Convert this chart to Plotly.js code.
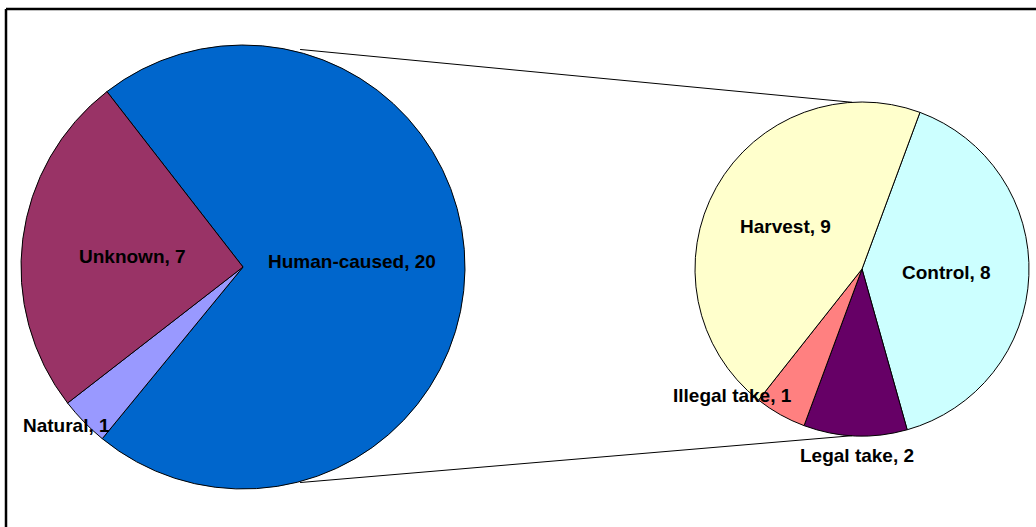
<!DOCTYPE html>
<html>
<head>
<meta charset="utf-8">
<script src="https://cdn.plot.ly/plotly-3.0.1.min.js"></script>
<style>html,body{margin:0;padding:0;background:#fff;}#chart{width:1036px;height:527px;}</style>
</head>
<body>
<div id="chart"></div>
<script>
// ---- data ----
const mainLabels = ["Human-caused", "Natural", "Unknown"];
const mainValues = [20, 1, 7];
const mainColors = ["#0066CC", "#9999FF", "#993366"];

const subLabels = ["Control", "Legal take", "Illegal take", "Harvest"];
const subValues = [8, 2, 1, 9];
const subColors = ["#CCFFFF", "#660066", "#FF8080", "#FFFFCC"];

// ---- geometry (pixels) ----
const W = 1036, H = 527;
const L = {cx: 243, cy: 267, r: 222};
const R = {cx: 862, cy: 269, r: 167};

// label anchor points (pixels), same order as labels above
const mainLabelPos = [[352, 261], [66, 425], [132, 256]];
const subLabelPos = [[946, 272], [857, 455], [732, 395], [785, 227]];

function domainOf(p) {
  return {
    x: [(p.cx - p.r) / W, (p.cx + p.r) / W],
    y: [1 - (p.cy + p.r) / H, 1 - (p.cy - p.r) / H]
  };
}
const px = x => x / W;
const py = y => 1 - y / H;

const font = {family: "Liberation Sans, Arial, sans-serif", size: 19, color: "#000"};

const traces = [
  {
    type: "pie",
    labels: mainLabels,
    values: mainValues,
    marker: {colors: mainColors, line: {color: "#000", width: 1}},
    sort: false,
    direction: "clockwise",
    rotation: -37.8,
    domain: domainOf(L),
    textinfo: "none",
    hoverinfo: "label+value",
    showlegend: false
  },
  {
    type: "pie",
    labels: subLabels,
    values: subValues,
    marker: {colors: subColors, line: {color: "#000", width: 1}},
    sort: false,
    direction: "clockwise",
    rotation: 20.3,
    domain: domainOf(R),
    textinfo: "none",
    hoverinfo: "label+value",
    showlegend: false
  }
];

const annotations = [];
function addLabels(labels, values, pos) {
  labels.forEach((lab, i) => {
    annotations.push({
      xref: "paper", yref: "paper",
      x: px(pos[i][0]), y: py(pos[i][1]),
      xanchor: "center", yanchor: "middle",
      text: "<b>" + lab + ", " + values[i] + "</b>",
      showarrow: false,
      font: font
    });
  });
}
addLabels(mainLabels, mainValues, mainLabelPos);
addLabels(subLabels, subValues, subLabelPos);

// connector lines from the main pie to the secondary pie
const angL = 14.9 * Math.PI / 180, angR = -3.4 * Math.PI / 180;
const topL = [L.cx + L.r * Math.sin(angL), L.cy - L.r * Math.cos(angL) - 3];
const botL = [L.cx + L.r * Math.sin(angL), L.cy + L.r * Math.cos(angL) + 1];
const topR = [R.cx + R.r * Math.sin(angR), R.cy - R.r * Math.cos(angR)];
const botR = [R.cx + R.r * Math.sin(angR), R.cy + R.r * Math.cos(angR)];

const shapes = [
  {type: "line", xref: "paper", yref: "paper", x0: px(topL[0]), y0: py(topL[1]), x1: px(topR[0]), y1: py(topR[1]), line: {color: "#000", width: 1}},
  {type: "line", xref: "paper", yref: "paper", x0: px(botL[0]), y0: py(botL[1]), x1: px(botR[0]), y1: py(botR[1]), line: {color: "#000", width: 1}},
  {type: "line", xref: "paper", yref: "paper", x0: px(6), y0: py(9), x1: px(W + 5), y1: py(9), line: {color: "#000", width: 2.5}},
  {type: "line", xref: "paper", yref: "paper", x0: px(6), y0: py(9), x1: px(6), y1: py(H + 5), line: {color: "#000", width: 2.5}}
];

const layout = {
  width: W, height: H,
  margin: {l: 0, r: 0, t: 0, b: 0},
  paper_bgcolor: "#fff",
  plot_bgcolor: "#fff",
  showlegend: false,
  shapes: shapes,
  annotations: annotations
};

Plotly.newPlot("chart", traces, layout, {displayModeBar: false, staticPlot: true});
</script>
</body>
</html>
